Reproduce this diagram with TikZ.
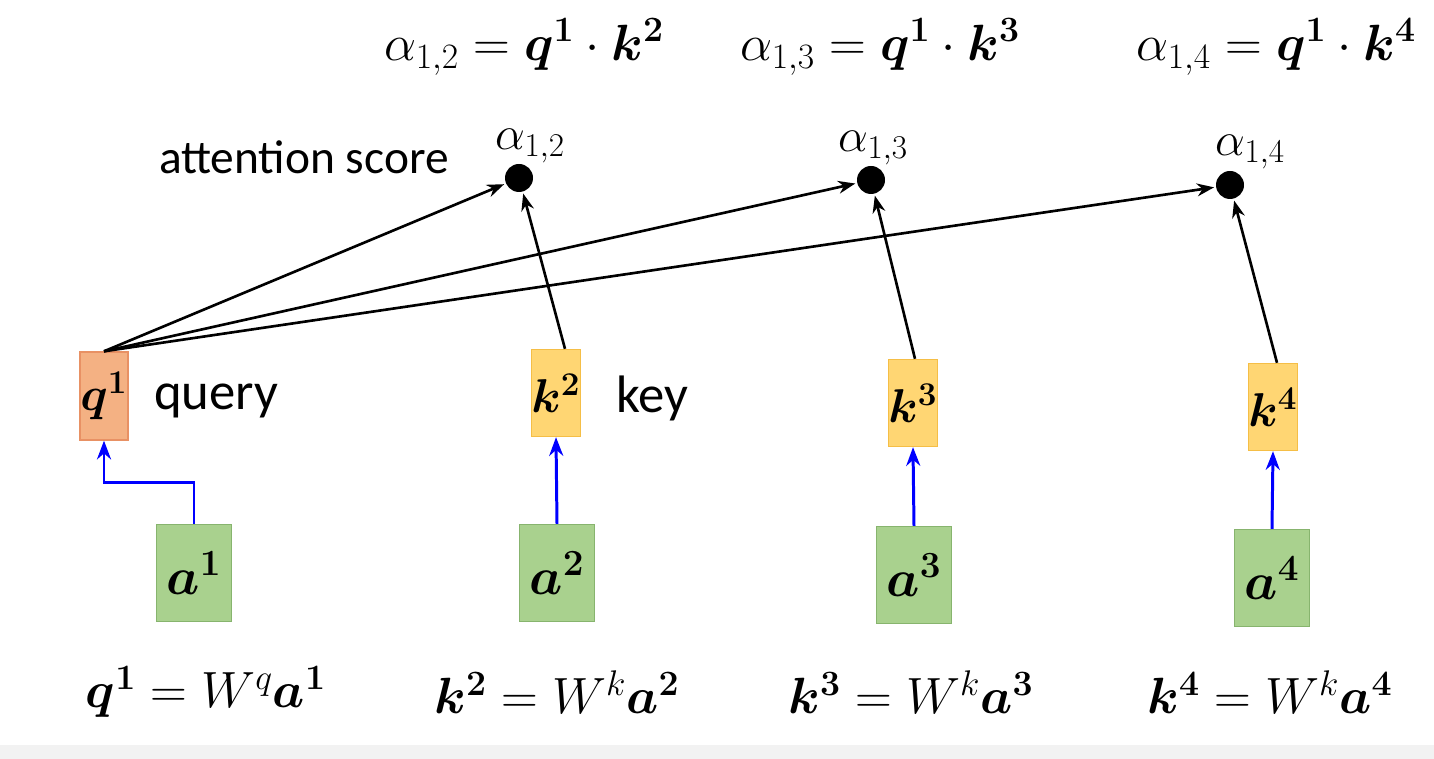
\RequirePackage{fix-cm}
\documentclass[tikz,border=0pt]{standalone}
\usepackage{amsmath,amssymb,bm}
\usepackage{fontspec}
\setsansfont{Carlito}
\usepackage{xcolor}
\usetikzlibrary{arrows.meta,positioning,calc}

\definecolor{qfill}{RGB}{244,177,131}
\definecolor{qline}{RGB}{232,145,100}
\definecolor{kfill}{RGB}{255,214,115}
\definecolor{kline}{RGB}{245,190,70}
\definecolor{afill}{RGB}{169,209,142}
\definecolor{aline}{RGB}{135,180,110}

\begin{document}
\begin{tikzpicture}[x=0.02cm,y=-0.02cm,>=Stealth,
    qbox/.style={draw=qline,fill=qfill,line width=0.8pt,minimum width=0.96cm,minimum height=1.76cm,inner sep=0pt,font=\fontsize{27}{30}\selectfont},
    kbox/.style={draw=kline,fill=kfill,line width=0.8pt,minimum width=0.94cm,minimum height=1.74cm,inner sep=0pt,font=\fontsize{27}{30}\selectfont},
    abox/.style={draw=aline,fill=afill,line width=0.8pt,minimum width=1.5cm,minimum height=1.94cm,inner sep=0pt,font=\fontsize{30}{34}\selectfont},
    dot/.style={circle,fill=black,minimum size=0.56cm,inner sep=0pt},
    word/.style={font=\sffamily\fontsize{30}{34}\selectfont},
    eqn/.style={font=\fontsize{29}{33}\selectfont},
    sub/.style={font=\fontsize{27}{30}\selectfont},
    score/.style={->,line width=1.5pt,shorten >=1pt},
    proj/.style={->,blue,line width=1.7pt}]
  \useasboundingbox (0,0) rectangle (1434,759);
  \fill[black!5] (0,745) rectangle (1434,759);
  % inputs and their query / keys
  \node[abox] (a1) at (194,573) {$\bm{a^1}$};
  \node[abox] (a2) at (557,573) {$\bm{a^2}$};
  \node[abox] (a3) at (914,575) {$\bm{a^3}$};
  \node[abox] (a4) at (1272,578) {$\bm{a^4}$};
  \node[qbox] (q1) at (104,396) {$\bm{q^1}$};
  \node[kbox] (k2) at (556,393) {$\bm{k^2}$};
  \node[kbox] (k3) at (913,403) {$\bm{k^3}$};
  \node[kbox] (k4) at (1273,407) {$\bm{k^4}$};
  \node[word,anchor=west] (query) at (148,401) {query};
  \node[word,anchor=west] (key) at (610,398) {key};
  % scores
  \node[dot] (s2) at (519,178) {};
  \node[dot] (s3) at (871,180) {};
  \node[dot] (s4) at (1230,185) {};
  \node[sub] (l2) at (530,146) {$\alpha_{1,2}$};
  \node[sub] (l3) at (873,148) {$\alpha_{1,3}$};
  \node[sub] (l4) at (1250,152) {$\alpha_{1,4}$};
  \node[word,font=\sffamily\fontsize{27}{30}\selectfont,anchor=east] (att) at (455,157) {attention score};
  % formulas
  \node[eqn] (t2) at (524,47) {$\alpha_{1,2}=\bm{q^1}\cdot\bm{k^2}$};
  \node[eqn] (t3) at (880,47) {$\alpha_{1,3}=\bm{q^1}\cdot\bm{k^3}$};
  \node[eqn] (t4) at (1276,47) {$\alpha_{1,4}=\bm{q^1}\cdot\bm{k^4}$};
  \node[eqn] (f1) at (206,692) {$\bm{q^1}=W^q\bm{a^1}$};
  \node[eqn] (f2) at (557,692) {$\bm{k^2}=W^k\bm{a^2}$};
  \node[eqn] (f3) at (911,692) {$\bm{k^3}=W^k\bm{a^3}$};
  \node[eqn] (f4) at (1270,692) {$\bm{k^4}=W^k\bm{a^4}$};
  % connectors
  \foreach \s in {s2,s3,s4}
    \draw[score] (q1.north) -- (\s);
  \draw[score] ([xshift=0.18cm]k2.north) -- (s2);
  \draw[score] ([xshift=0.04cm]k3.north) -- (s3);
  \draw[score] ([xshift=0.08cm]k4.north) -- (s4);
  \draw[proj] (a1.north) -- ++(0,-41) -| (q1.south);
  \foreach \i in {2,3,4}
    \draw[proj] (a\i.north) -- (k\i.south);
\end{tikzpicture}
\end{document}
